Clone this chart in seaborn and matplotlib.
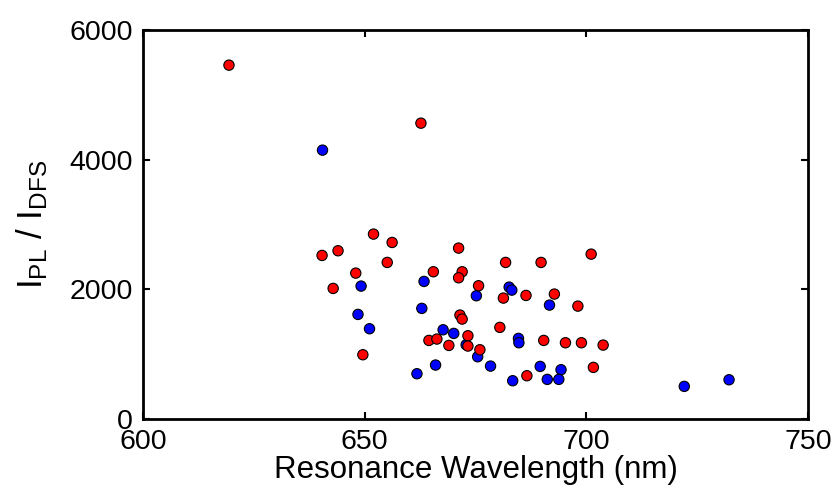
import matplotlib
matplotlib.use("Agg")
import matplotlib.pyplot as plt
import seaborn as sns
import pandas as pd

red_x = [619.4, 662.7, 652.0, 656.2, 640.4, 644.0, 655.1, 648.0, 642.9, 649.6,
         671.2, 665.5, 672.0, 671.2, 675.7, 671.5, 672.0, 673.3, 664.5, 666.3,
         669.0, 673.3, 676.0, 701.1, 681.8, 689.8, 681.3, 686.4, 692.8, 698.1,
         680.5, 690.4, 695.3, 698.9, 703.8, 686.6, 701.6]
red_y = [5459, 4564, 2853, 2724, 2524, 2596, 2416, 2251, 2015, 992,
         2637, 2272, 2272, 2179, 2056, 1604, 1542, 1285, 1213, 1234,
         1136, 1126, 1069, 2544, 2416, 2416, 1866, 1907, 1928, 1742,
         1414, 1213, 1177, 1177, 1141, 668, 797]

blue_x = [640.5, 649.2, 648.5, 651.1, 663.4, 662.9, 667.7, 670.1, 672.9, 675.2,
          675.5, 678.4, 666.0, 661.8, 682.6, 683.2, 691.7, 684.7, 684.8, 683.4,
          689.6, 694.3, 691.2, 693.8, 722.1, 732.2]
blue_y = [4148, 2051, 1614, 1393, 2123, 1707, 1377, 1321, 1146, 1902,
          961, 817, 833, 699, 2035, 1989, 1758, 1244, 1177, 591,
          812, 761, 612, 612, 504, 606]

x_ticks = [600, 650, 700, 750]
y_ticks = [0, 2000, 4000, 6000]

df = pd.DataFrame({
    "x": blue_x + red_x,
    "y": blue_y + red_y,
    "group": ["blue"] * len(blue_x) + ["red"] * len(red_x),
})

sns.set_style("ticks")
plt.rcParams['font.family'] = ['Liberation Sans', 'DejaVu Sans']
plt.rcParams['mathtext.fontset'] = 'custom'
plt.rcParams['mathtext.rm'] = 'Liberation Sans'
plt.rcParams['mathtext.it'] = 'Liberation Sans'
plt.rcParams['text.color'] = 'black'
plt.rcParams['axes.labelcolor'] = 'black'
plt.rcParams['xtick.color'] = 'black'
plt.rcParams['ytick.color'] = 'black'

fig = plt.figure(figsize=(8.39, 4.93), dpi=100)
ax = fig.add_axes([0.1704, 0.150, 0.7926, 0.789])

sns.scatterplot(data=df, x="x", y="y", hue="group",
                palette={"red": "#ff0000", "blue": "#0000ff"},
                s=55, edgecolor="black", linewidth=0.8, legend=False, ax=ax)

ax.set_xlim(600, 750)
ax.set_ylim(0, 6000)
ax.set_xticks(x_ticks)
ax.set_yticks(y_ticks)
ax.tick_params(direction="in", length=5, width=1.5, labelsize=20.5,
               top=True, right=True, pad=7, colors="black")
for sp in ax.spines.values():
    sp.set_linewidth(2)
    sp.set_color("black")
ax.set_xlabel("Resonance Wavelength (nm)", fontsize=22.5, labelpad=0)
ax.set_ylabel(r"$\mathregular{I_{PL}\ /\ I_{DFS}}$", fontsize=25, labelpad=14)

fig.savefig("out.png", dpi=100)
